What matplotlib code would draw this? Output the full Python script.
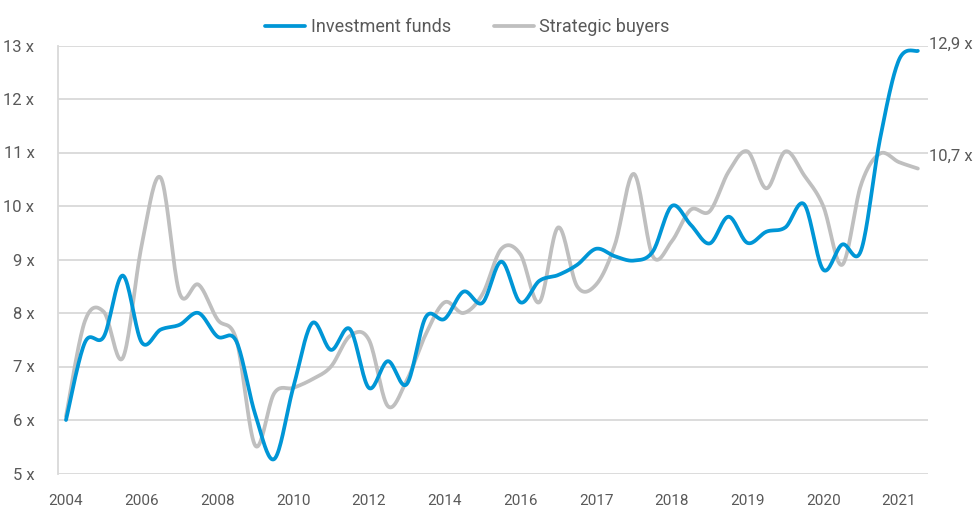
import numpy as np
import matplotlib
matplotlib.use("Agg")
import matplotlib.pyplot as plt

# ---- data ----
tick_labels = ['2004', '2006', '2008', '2010', '2012', '2014', '2016',
               '2017', '2018', '2019', '2020', '2021']
points_per_tick = 4
investment_funds = [6.0, 7.45, 7.56, 8.7, 7.45, 7.69, 7.78, 8.0, 7.56, 7.47,
                    6.1, 5.27, 6.6, 7.81, 7.31, 7.7, 6.6, 7.1, 6.67, 7.92,
                    7.89, 8.4, 8.19, 8.96, 8.2, 8.6, 8.71, 8.9, 9.2, 9.06,
                    8.98, 9.15, 10.0, 9.65, 9.3, 9.8, 9.31, 9.52, 9.6, 10.03,
                    8.81, 9.28, 9.17, 11.25, 12.73, 12.9]
strategic_buyers = [6.07, 7.85, 8.02, 7.16, 9.27, 10.53, 8.37, 8.53, 7.88, 7.5,
                    5.52, 6.5, 6.6, 6.76, 7.0, 7.57, 7.5, 6.26, 6.74, 7.6,
                    8.2, 8.0, 8.35, 9.2, 9.1, 8.2, 9.6, 8.5, 8.53, 9.28,
                    10.6, 9.06, 9.34, 9.93, 9.9, 10.64, 11.02, 10.33, 11.02, 10.57,
                    10.0, 8.9, 10.4, 10.98, 10.82, 10.7]
end_labels = ['12,9 x', '10,7 x']
y_ticks = list(range(5, 14))

BLUE = '#0096d6'
GREY = '#bfbfbf'
TEXT = '#595959'
GRID = '#d9d9d9'


def smooth(y, n=20):
    """Excel-like smoothed line (Catmull-Rom spline through the points)."""
    y = np.asarray(y, float)
    x = np.arange(len(y), dtype=float)
    P = np.concatenate([[y[0]], y, [y[-1]]])
    X = np.concatenate([[x[0]], x, [x[-1]]])
    xs, ys = [], []
    t = np.linspace(0, 1, n, endpoint=False)
    for i in range(1, len(P) - 2):
        p0, p1, p2, p3 = P[i - 1], P[i], P[i + 1], P[i + 2]
        q0, q1, q2, q3 = X[i - 1], X[i], X[i + 1], X[i + 2]
        c1y, c2y = p1 + (p2 - p0) / 6, p2 - (p3 - p1) / 6
        c1x, c2x = q1 + (q2 - q0) / 6, q2 - (q3 - q1) / 6
        b = lambda a0, a1, a2, a3: ((1 - t) ** 3 * a0 + 3 * (1 - t) ** 2 * t * a1
                                    + 3 * (1 - t) * t ** 2 * a2 + t ** 3 * a3)
        xs.append(b(q1, c1x, c2x, q2))
        ys.append(b(p1, c1y, c2y, p2))
    xs.append([x[-1]])
    ys.append([y[-1]])
    return np.concatenate(xs), np.concatenate(ys)


fig = plt.figure(figsize=(9.76, 5.26), dpi=100)
ax = fig.add_axes([58 / 976, (526 - 473.5) / 526, (928 - 58) / 976, (473.5 - 45.5) / 526])

xb, yb = smooth(investment_funds)
xg, yg = smooth(strategic_buyers)
ax.plot(xg, yg, color=GREY, lw=2.7, solid_capstyle='round', label='Strategic buyers', zorder=3)
ax.plot(xb, yb, color=BLUE, lw=2.7, solid_capstyle='round', label='Investment funds', zorder=4)

ax.set_xlim(-8 / 18.93, (928 - 66) / 18.93)
ax.set_ylim(5, 13)
ax.set_yticks(y_ticks)
ax.set_yticklabels([f'{v} x' for v in y_ticks], fontsize=12, color=TEXT, family='Roboto')
ax.set_xticks(np.arange(len(tick_labels)) * points_per_tick)
ax.set_xticklabels(tick_labels, fontsize=11, color=TEXT, family='Roboto')
ax.tick_params(axis='y', length=0, pad=17)
ax.tick_params(axis='x', length=0, pad=15)
ax.grid(axis='y', color=GRID, lw=1.3)
ax.set_axisbelow(True)
for s in ['top', 'right', 'bottom']:
    ax.spines[s].set_visible(False)
ax.spines['left'].set_color(GRID)
ax.spines['left'].set_linewidth(1.3)

# end-value labels
ax.annotate(end_labels[0], xy=(ax.get_xlim()[1], investment_funds[-1]), xytext=(1, 5),
            textcoords='offset points', ha='left', va='center', fontsize=12, color=TEXT,
            family='Roboto', annotation_clip=False)
ax.annotate(end_labels[1], xy=(ax.get_xlim()[1], strategic_buyers[-1]), xytext=(1, 9),
            textcoords='offset points', ha='left', va='center', fontsize=12, color=TEXT,
            family='Roboto', annotation_clip=False)

h, l = ax.get_legend_handles_labels()
leg = fig.legend(h[::-1], l[::-1], loc='center', bbox_to_anchor=(467.5 / 976, 1 - 27 / 526),
                 ncol=2, frameon=False, handlelength=2.2, handletextpad=0.3, columnspacing=2.4,
                 prop={'family': 'Roboto', 'size': 13})
for t in leg.get_texts():
    t.set_color(TEXT)

fig.savefig('out.png', dpi=100)
